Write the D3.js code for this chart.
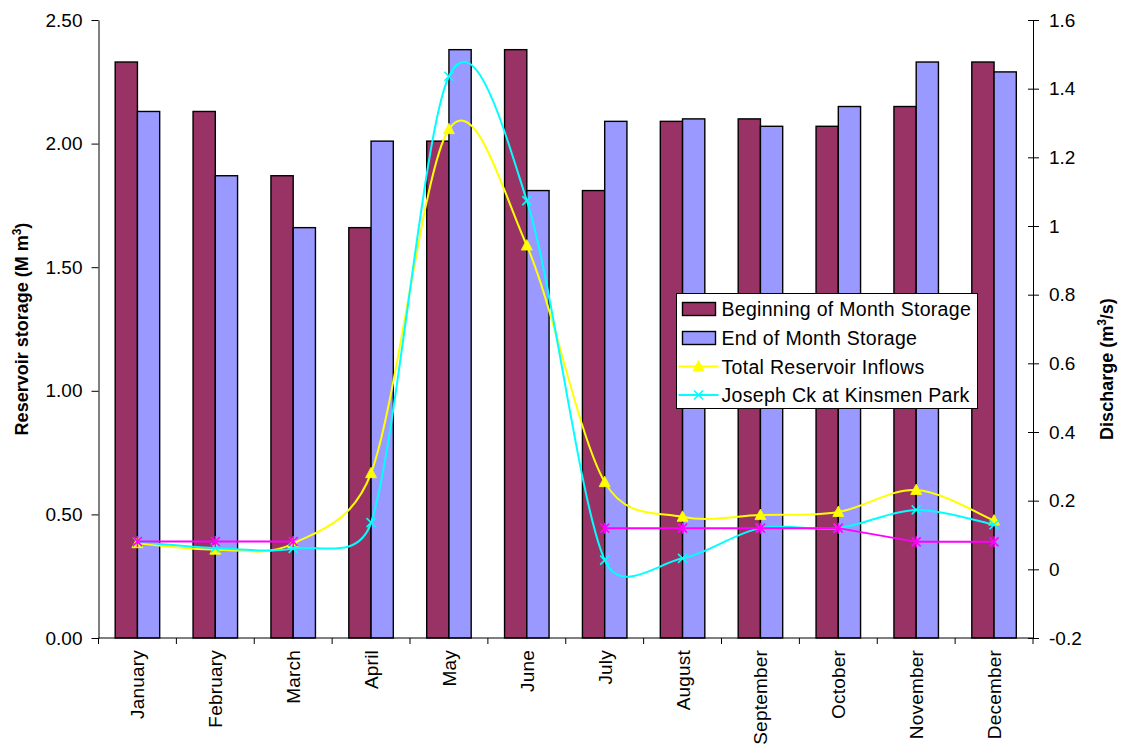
<!DOCTYPE html>
<html>
<head>
<meta charset="utf-8">
<script src="https://cdn.jsdelivr.net/npm/d3@7"></script>
<style>
  html, body { margin: 0; padding: 0; background: #fff; }
  svg { display: block; font-family: "Liberation Sans", Arial, sans-serif; }
</style>
</head>
<body>
<svg id="chart" width="1123" height="754"></svg>
<script>
// Monthly reservoir storage (M m³) and discharge (m³/s)
const months = ["January", "February", "March", "April", "May", "June",
                "July", "August", "September", "October", "November", "December"];
const beginStorage = [2.33, 2.13, 1.87, 1.66, 2.01, 2.38, 1.81, 2.09, 2.10, 2.07, 2.15, 2.33];
const endStorage   = [2.13, 1.87, 1.66, 2.01, 2.38, 1.81, 2.09, 2.10, 2.07, 2.15, 2.33, 2.29];
const totalInflows = [0.076, 0.057, 0.075, 0.28, 1.282, 0.943, 0.254, 0.153, 0.158, 0.167, 0.231, 0.142];
const josephCk     = [0.08, 0.062, 0.061, 0.136, 1.436, 1.074, 0.027, 0.032, 0.12, 0.12, 0.173, 0.13];
const baseFlow     = [0.081, 0.081, 0.081, null, null, null, 0.12, 0.12, 0.12, 0.12, 0.08, 0.08];
const storageTicks   = [0, 0.5, 1.0, 1.5, 2.0, 2.5];
const dischargeTicks = [-0.2, 0, 0.2, 0.4, 0.6, 0.8, 1, 1.2, 1.4, 1.6];
const dischargeTickLabels = ["-0.2", "0", "0.2", "0.4", "0.6", "0.8", "1", "1.2", "1.4", "1.6"];
const seriesNames = ["Beginning of Month Storage", "End of Month Storage",
                     "Total Reservoir Inflows", "Joseph Ck at Kinsmen Park"];

const colors = {
  begin: "#993366", end: "#9999FF",
  inflow: "#FFFF00", joseph: "#00FFFF", base: "#FF00FF"
};

const svg = d3.select("#chart");
const plot = { left: 98.5, right: 1033, top: 20, bottom: 638 };
const FONT = 19;

const x = d3.scaleBand().domain(months).range([plot.left, plot.right]).paddingInner(0).paddingOuter(0);
const xSub = d3.scaleBand().domain(["begin", "end"]).range([0, x.bandwidth()])
  .paddingInner(0).paddingOuter(0.75);
const yL = d3.scaleLinear().domain([0, 2.5]).range([plot.bottom, plot.top]);
const yR = d3.scaleLinear().domain([-0.2, 1.6]).range([plot.bottom, plot.top]);

// ---- bars
const barG = svg.append("g");
function drawBars(values, key, fill) {
  barG.selectAll(null).data(values).enter().append("rect")
    .attr("x", (d, i) => x(months[i]) + xSub(key))
    .attr("y", d => yL(d))
    .attr("width", xSub.bandwidth())
    .attr("height", d => yL(0) - yL(d))
    .attr("fill", fill)
    .attr("stroke", "#000")
    .attr("stroke-width", 1.4);
}
drawBars(beginStorage, "begin", colors.begin);
drawBars(endStorage, "end", colors.end);

// ---- axes
const axisG = svg.append("g").attr("font-size", FONT);

const leftAxis = axisG.append("g").attr("transform", `translate(${plot.left},0)`)
  .call(d3.axisLeft(yL).tickValues(storageTicks).tickFormat(d3.format(".2f"))
    .tickSizeInner(7).tickSizeOuter(0).tickPadding(9));

const rightAxis = axisG.append("g").attr("transform", `translate(${plot.right},0)`)
  .call(d3.axisRight(yR).tickValues(dischargeTicks)
    .tickFormat((d, i) => dischargeTickLabels[i])
    .tickSizeInner(6).tickSizeOuter(0).tickPadding(10));
rightAxis.selectAll(".tick line").attr("x1", -5);

[leftAxis, rightAxis].forEach(a => {
  a.attr("font-family", null).attr("font-size", null);
  a.selectAll("text").attr("fill", "#000");
  a.selectAll("line, path").attr("stroke", "#000").attr("stroke-width", 1);
});

// category axis: baseline, boundary ticks, rotated labels
const bottomG = axisG.append("g");
bottomG.append("line")
  .attr("x1", plot.left).attr("x2", plot.right)
  .attr("y1", yL(0)).attr("y2", yL(0))
  .attr("stroke", "#000");
const bounds = months.map(m => x(m)).concat([x(months[months.length - 1]) + x.bandwidth()]);
bottomG.selectAll(null).data(bounds).enter().append("line")
  .attr("x1", d => d).attr("x2", d => d)
  .attr("y1", yL(0)).attr("y2", yL(0) + 6)
  .attr("stroke", "#000");
bottomG.selectAll(null).data(months).enter().append("text")
  .attr("transform", d => `translate(${x(d) + x.bandwidth() / 2 + 7},${yL(0) + 12}) rotate(-90)`)
  .attr("text-anchor", "end")
  .attr("letter-spacing", 0.2)
  .text(d => d);

// axis titles
const leftTitle = svg.append("text")
  .attr("transform", `translate(28,${(plot.top + plot.bottom) / 2}) rotate(-90)`)
  .attr("text-anchor", "middle").attr("font-weight", "bold").attr("font-size", 18);
leftTitle.append("tspan").text("Reservoir storage (M m");
leftTitle.append("tspan").attr("dy", -7).attr("font-size", 12).text("3");
leftTitle.append("tspan").attr("dy", 7).text(")");

const rightTitle = svg.append("text")
  .attr("transform", `translate(1113,${(plot.top + plot.bottom) / 2 + 40}) rotate(-90)`)
  .attr("text-anchor", "middle").attr("font-weight", "bold").attr("font-size", 18);
rightTitle.append("tspan").text("Discharge (m");
rightTitle.append("tspan").attr("dy", -7).attr("font-size", 12).text("3");
rightTitle.append("tspan").attr("dy", 7).text("/s)");

// ---- smoothed line (Bezier with tangent arms limited to half the chord)
function smoothPath(pts) {
  const p = d3.path();
  if (!pts.length) return "";
  p.moveTo(pts[0][0], pts[0][1]);
  const dist = (a, b) => Math.hypot(b[0] - a[0], b[1] - a[1]);
  for (let i = 0; i < pts.length - 1; i++) {
    const P0 = pts[i - 1] || pts[i], P1 = pts[i], P2 = pts[i + 1], P3 = pts[i + 2] || pts[i + 1];
    const d02 = dist(P0, P2), d12 = dist(P1, P2), d13 = dist(P1, P3);
    const f1 = d02 > 0 ? Math.min(1 / 6, d12 / (2 * d02)) : 0;
    const f2 = d13 > 0 ? Math.min(1 / 6, d12 / (2 * d13)) : 0;
    p.bezierCurveTo(
      P1[0] + f1 * (P2[0] - P0[0]), P1[1] + f1 * (P2[1] - P0[1]),
      P2[0] - f2 * (P3[0] - P1[0]), P2[1] - f2 * (P3[1] - P1[1]),
      P2[0], P2[1]);
  }
  return p.toString();
}

const cx = i => x(months[i]) + x.bandwidth() / 2;

// marker shapes
function triangle(g, px, py, color) {
  g.append("path")
    .attr("d", `M${px},${py - 6}L${px + 5.5},${py + 4.5}L${px - 5.5},${py + 4.5}Z`)
    .attr("fill", color).attr("stroke", color).attr("stroke-width", 0.8);
}
function cross(g, px, py, color) {
  const s = 4.5;
  g.append("path")
    .attr("d", `M${px - s},${py - s}L${px + s},${py + s}M${px - s},${py + s}L${px + s},${py - s}`)
    .attr("stroke", color).attr("stroke-width", 1.6).attr("fill", "none");
}
function star(g, px, py, color) {
  const s = 4.5;
  g.append("path")
    .attr("d", `M${px - s},${py - s}L${px + s},${py + s}M${px - s},${py + s}L${px + s},${py - s}M${px},${py - s - 1}L${px},${py + s + 1}`)
    .attr("stroke", color).attr("stroke-width", 1.6).attr("fill", "none");
}

const lineG = svg.append("g");

// Total reservoir inflows
const inflowPts = totalInflows.map((v, i) => [cx(i), yR(v)]);
lineG.append("path").attr("d", smoothPath(inflowPts))
  .attr("fill", "none").attr("stroke", colors.inflow).attr("stroke-width", 2);
inflowPts.forEach(p => triangle(lineG, p[0], p[1], colors.inflow));

// Joseph Creek at Kinsmen Park
const josephPts = josephCk.map((v, i) => [cx(i), yR(v)]);
lineG.append("path").attr("d", smoothPath(josephPts))
  .attr("fill", "none").attr("stroke", colors.joseph).attr("stroke-width", 2);
josephPts.forEach(p => cross(lineG, p[0], p[1], colors.joseph));

// base flow (straight segments, no value April–June)
const baseLine = d3.line().defined(d => d != null).x((d, i) => cx(i)).y(d => yR(d));
lineG.append("path").attr("d", baseLine(baseFlow))
  .attr("fill", "none").attr("stroke", colors.base).attr("stroke-width", 2);
baseFlow.forEach((v, i) => { if (v != null) star(lineG, cx(i), yR(v), colors.base); });

// ---- legend
const legend = svg.append("g").attr("transform", "translate(676.5,293.5)")
  .attr("font-size", 19.5).attr("letter-spacing", 0.3);
legend.append("rect").attr("width", 301).attr("height", 115)
  .attr("fill", "#fff").attr("stroke", "#000").attr("stroke-width", 1);
const rowY = [15.5, 44.5, 73, 101.5];
// bar swatches
[colors.begin, colors.end].forEach((c, i) => {
  legend.append("rect").attr("x", 6).attr("y", rowY[i] - 6.5).attr("width", 33).attr("height", 13)
    .attr("fill", c).attr("stroke", "#000").attr("stroke-width", 1.4);
});
// line swatches
legend.append("line").attr("x1", 2).attr("x2", 42).attr("y1", rowY[2]).attr("y2", rowY[2])
  .attr("stroke", colors.inflow).attr("stroke-width", 2);
triangle(legend, 22, rowY[2], colors.inflow);
legend.append("line").attr("x1", 2).attr("x2", 42).attr("y1", rowY[3]).attr("y2", rowY[3])
  .attr("stroke", colors.joseph).attr("stroke-width", 2);
cross(legend, 22, rowY[3], colors.joseph);
seriesNames.forEach((name, i) => {
  legend.append("text").attr("x", 45).attr("y", rowY[i]).attr("dy", "0.36em").text(name);
});
</script>
</body>
</html>
